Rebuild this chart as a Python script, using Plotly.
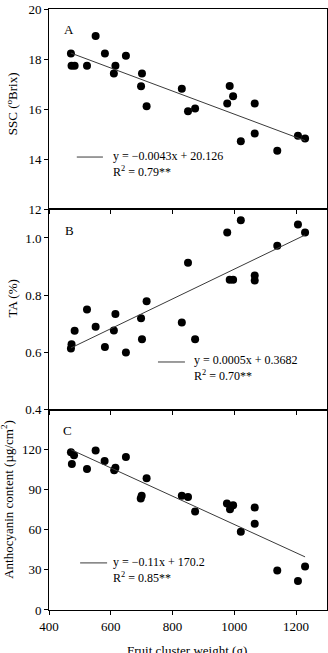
import numpy as np
import plotly.graph_objects as go
from plotly.subplots import make_subplots

# Fruit cluster weight (g)
weight = [471, 473, 483, 523, 551, 581, 610, 615, 649, 698, 701, 716,
          830, 850, 873, 977, 985, 996, 1021, 1066, 1066, 1139, 1206, 1229]
# A: SSC (°Brix)
ssc = [18.22, 17.73, 17.73, 17.73, 18.92, 18.22, 17.42, 17.73, 18.13, 16.92, 17.42, 16.12,
       16.82, 15.92, 16.03, 16.23, 16.93, 16.52, 14.72, 16.23, 15.03, 14.34, 14.94, 14.83]
# B: TA (%)
weight_b = [471, 473, 483, 523, 551, 581, 610, 615, 649, 698, 701, 716,
            830, 850, 873, 977, 985, 996, 1021, 1066, 1066, 1139, 1206, 1229]
ta = [0.614, 0.629, 0.676, 0.750, 0.690, 0.619, 0.677, 0.734, 0.600, 0.719, 0.646, 0.779,
      0.705, 0.913, 0.646, 1.019, 0.854, 0.854, 1.062, 0.869, 0.851, 0.973, 1.047, 1.019]
# C: Anthocyanin content (µg/cm²)
weight_c = [471, 474, 481, 523, 551, 580, 611, 615, 649, 697, 700, 716,
            830, 850, 873, 976, 986, 996, 1021, 1066, 1066, 1139, 1206, 1229]
antho = [118.2, 109.3, 115.8, 105.6, 119.5, 111.5, 104.6, 106.5, 114.5, 83.4, 85.6, 98.6,
         85.6, 84.6, 73.7, 79.7, 75.4, 78.4, 58.5, 76.7, 64.5, 29.6, 21.7, 32.6]

panel_labels = ["A", "B", "C"]
equations = ["y = \u22120.0043x + 20.126", "y = 0.0005x + 0.3682", "y = \u22120.11x + 170.2"]
r2_texts = ["R<sup>2</sup> = 0.79**", "R<sup>2</sup> = 0.70**", "R<sup>2</sup> = 0.85**"]
y_titles = ["SSC (<sup>o</sup>Brix)", "TA (%)", "Anthocyanin content (\u00b5g/cm<sup>2</sup>)"]
x_title = "Fruit cluster weight (g)"
x_ticks = [400, 600, 800, 1000, 1200]
y_ticks = [[12, 14, 16, 18, 20], [0.4, 0.6, 0.8, 1.0], [0, 30, 60, 90, 120]]
y_ticktext = [["12", "14", "16", "18", "20"], ["0.4", "0.6", "0.8", "1.0"], ["0", "30", "60", "90", "120"]]
y_ranges = [[12, 20], [0.4, 1.1], [0, 150]]

FONT = "Liberation Serif, Times New Roman, serif"

fig = make_subplots(rows=3, cols=1, shared_xaxes=False, vertical_spacing=0)

series = [(weight, ssc), (weight_b, ta), (weight_c, antho)]
for i, (xs, ys) in enumerate(series):
    row = i + 1
    fig.add_trace(go.Scatter(x=xs, y=ys, mode="markers",
                             marker=dict(color="black", size=8),
                             showlegend=False, hoverinfo="skip"), row=row, col=1)
    slope, intercept = np.polyfit(xs, ys, 1)
    lx = np.array([min(xs), max(xs)])
    fig.add_trace(go.Scatter(x=lx, y=slope * lx + intercept, mode="lines",
                             line=dict(color="#3a3a3a", width=1),
                             showlegend=False, hoverinfo="skip"), row=row, col=1)

axis_common = dict(showline=True, linecolor="black", linewidth=1, mirror=True,
                   showgrid=False, zeroline=False, ticks="outside", ticklen=4,
                   tickcolor="black", tickwidth=1,
                   tickfont=dict(family=FONT, size=13, color="black"))

for i in range(3):
    row = i + 1
    fig.update_xaxes(range=[400, 1300], tickvals=x_ticks,
                     showticklabels=(row == 3), row=row, col=1, **axis_common)
    fig.update_yaxes(range=y_ranges[i], tickvals=y_ticks[i], ticktext=y_ticktext[i],
                     row=row, col=1, **axis_common)

fig.update_layout(yaxis=dict(domain=[2/3, 1]), yaxis2=dict(domain=[1/3, 2/3]),
                  yaxis3=dict(domain=[0, 1/3]))

# Legend-like keys per panel
key_line = [(0.10, 0.194, 0.261), (0.392, 0.489, 0.238), (0.112, 0.209, 0.235)]
key_text = [(0.223, 0.224), (0.514, 0.208), (0.223, 0.202)]
label_pos = [(0.072, 0.90), (0.072, 0.893), (0.065, 0.894)]
ytitle_pos = [(-37, 0.525), (-37, 0.555), (-42, 0.55)]

for i in range(3):
    xr = "x domain" if i == 0 else f"x{i+1} domain"
    yr = "y domain" if i == 0 else f"y{i+1} domain"
    x0, x1, yk = key_line[i]
    fig.add_shape(type="line", xref=xr, yref=yr, x0=x0, x1=x1, y0=yk, y1=yk,
                  line=dict(color="#3a3a3a", width=1))
    tx, ty = key_text[i]
    fig.add_annotation(xref=xr, yref=yr, x=tx, y=ty,
                       text=equations[i] + "<br>" + r2_texts[i], showarrow=False,
                       xanchor="left", yanchor="middle", align="left",
                       font=dict(family=FONT, size=12, color="black"))
    lx_, ly_ = label_pos[i]
    fig.add_annotation(xref=xr, yref=yr, x=lx_, y=ly_, text=panel_labels[i], showarrow=False,
                       xanchor="center", yanchor="middle",
                       font=dict(family=FONT, size=13, color="black"))
    xs_, ys_ = ytitle_pos[i]
    fig.add_annotation(xref=xr, yref=yr, x=0, y=ys_, xshift=xs_, text=y_titles[i],
                       showarrow=False, textangle=-90, xanchor="center", yanchor="middle",
                       font=dict(family=FONT, size=13, color="black"))

fig.add_annotation(xref="x3 domain", yref="y3 domain", x=0.498, y=0, yshift=-40,
                   text=x_title, showarrow=False, xanchor="center", yanchor="middle",
                   font=dict(family=FONT, size=13, color="black"))

fig.update_layout(width=328, height=653, margin=dict(l=49, r=1, t=9, b=43),
                  paper_bgcolor="white", plot_bgcolor="white",
                  font=dict(family=FONT, color="black"))

fig.write_html("out.html")
